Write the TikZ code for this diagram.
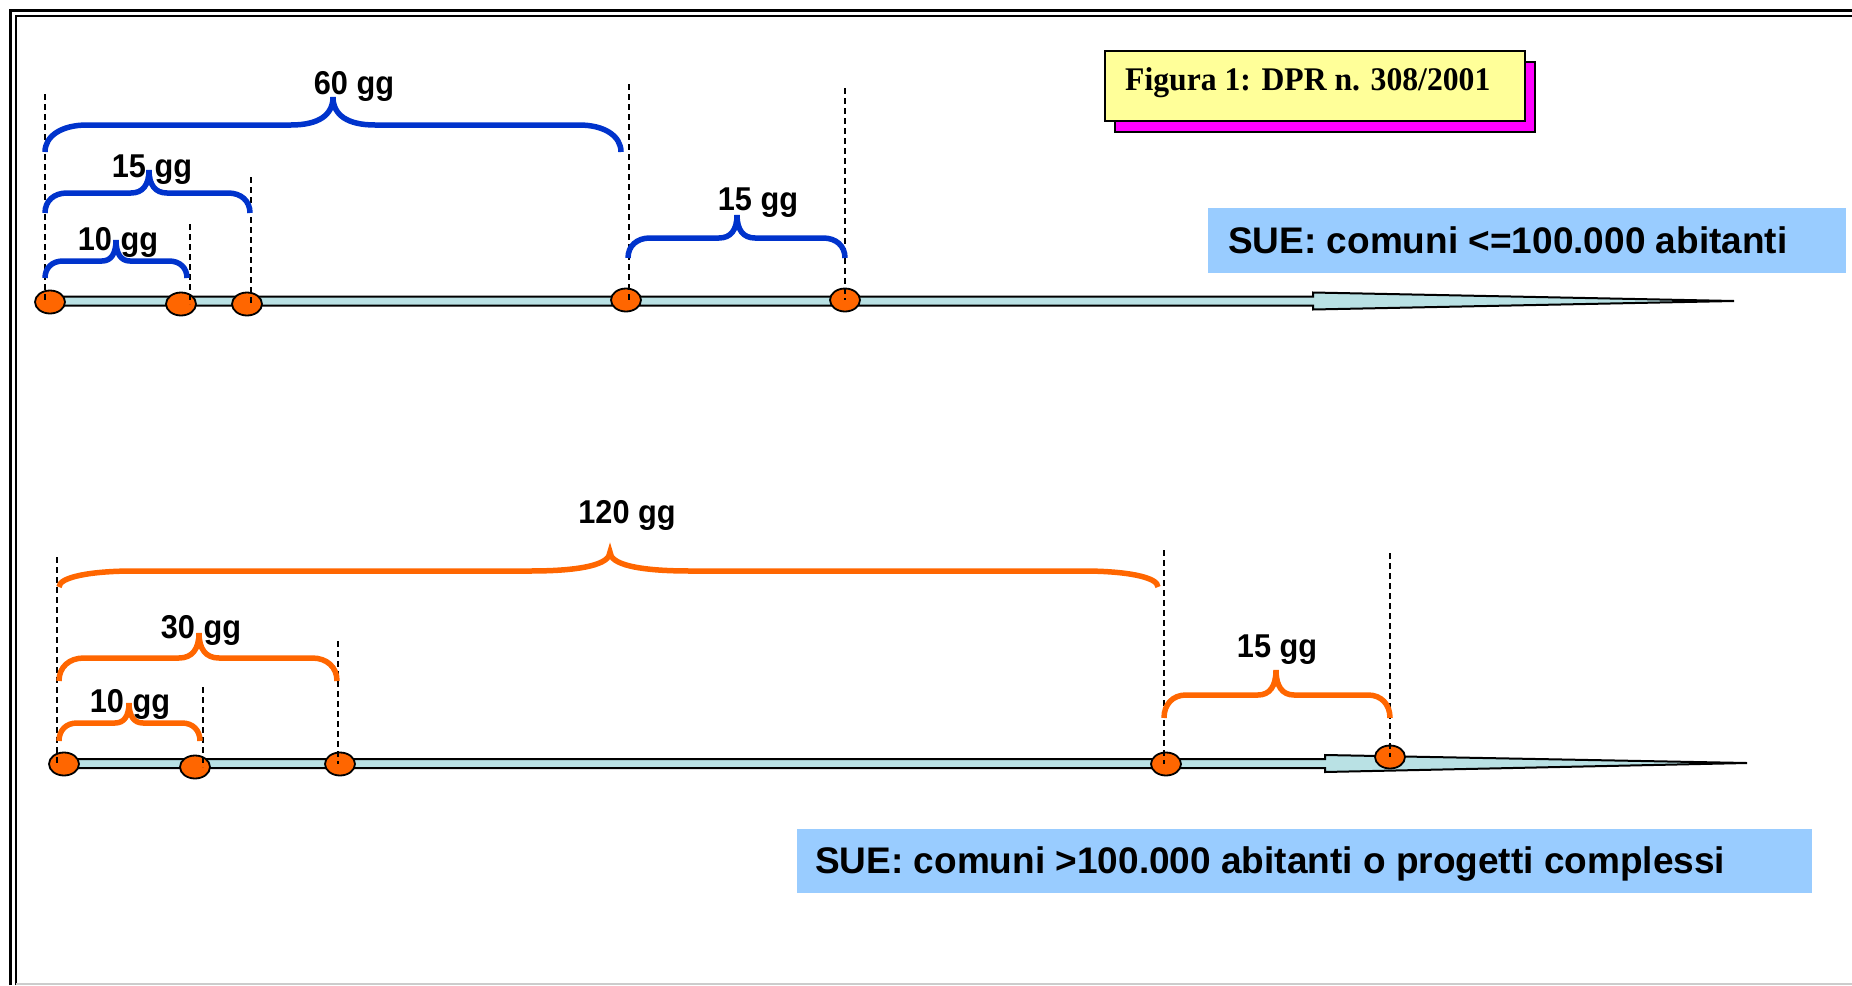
\documentclass[tikz,border=0pt]{standalone}
\usepackage{fontspec}
\setmainfont{Liberation Sans}
\newfontfamily\serifb{Liberation Serif}
\usetikzlibrary{shapes.geometric}
\definecolor{blueb}{RGB}{0,51,204}
\definecolor{orgc}{RGB}{255,102,0}
\definecolor{shaftc}{RGB}{185,225,228}
\definecolor{suebg}{RGB}{153,204,255}
\definecolor{yelc}{RGB}{255,255,153}
\definecolor{magc}{RGB}{255,0,255}
\tikzset{
  bracestyle/.style={line width=5.5pt, line cap=butt},
  dot/.style={ellipse, draw=black, line width=1.8pt, fill=orgc, minimum width=30pt, minimum height=23pt, inner sep=0pt},
  guide/.style={dash pattern=on 6pt off 4pt, line width=1.4pt, black},
  lbl/.style={anchor=base, inner sep=0pt, xscale=0.93, font=\fontsize{33}{38}\selectfont\bfseries},
  timeline/.style={fill=shaftc, draw=black, line width=2pt, line join=miter},
  suebox/.style={fill=suebg, inner sep=0pt, anchor=north west},
  suetxt/.style={anchor=base west, inner sep=0pt, font=\fontsize{37}{42}\selectfont\bfseries},
  figbox/.style={draw=black, line width=2pt, inner sep=0pt, anchor=north west, minimum width=420pt, minimum height=70pt}
}
% color, x1, x2, xm, yend, ytop, ytip, corner, tip half-width
\newcommand{\curlybr}[9]{%
  \draw[bracestyle, #1] (#2,#5) .. controls (#2,{#5-0.6*(#5-#6)}) and ({#2+0.4*#8},#6) .. ({#2+#8},#6)
    -- ({#4-#9},#6) .. controls ({#4-0.35*#9},#6) and (#4,{#6-0.35*(#6-#7)}) .. (#4,#7)
    .. controls (#4,{#6-0.35*(#6-#7)}) and ({#4+0.35*#9},#6) .. ({#4+#9},#6)
    -- ({#3-#8},#6) .. controls ({#3-0.4*#8},#6) and (#3,{#5-0.6*(#5-#6)}) .. (#3,#5);}
\begin{document}
\begin{tikzpicture}[x=1pt,y=-1pt]
\useasboundingbox (0,0) rectangle (1852,985);
% frame
\draw[line width=3pt] (10.5,985) -- (10.5,10.5) -- (1852,10.5);
\draw[line width=2pt] (15.5,985) -- (15.5,15.5) -- (1852,15.5);
\draw[black!20, line width=2pt] (16,984) -- (1852,984);

% title box
\node[figbox, fill=magc] (figsh) at (1114,61) {};
\node[figbox, fill=yelc] (fig) at (1104,50) {};
\node[anchor=base west, inner sep=0pt, xscale=0.96, font=\serifb\fontsize{33}{38}\selectfont\bfseries] (figt) at (1125,90) {Figura 1: DPR n. 308/2001};

% SUE boxes
\node[suebox, minimum width=638pt, minimum height=65pt] (sue1) at (1208,208) {};
\node[suetxt] (sue1t) at (1228,253) {SUE: comuni <=100.000 abitanti};
\node[suebox, minimum width=1015pt, minimum height=64pt] (sue2) at (797,829) {};
\node[suetxt] (sue2t) at (815,873) {SUE: comuni >100.000 abitanti o progetti complessi};

% top timeline
\draw[timeline] (50,296.5) -- (1313,296.5) -- (1313,292.5) -- (1734,301) -- (1313,309.5) -- (1313,305.5) -- (50,305.5) -- cycle;
\node[dot] (a1) at (50,302) {};
\node[dot] (a2) at (181,304) {};
\node[dot] (a3) at (247,304) {};
\node[dot] (a4) at (626,300) {};
\node[dot] (a5) at (845,300) {};

% bottom timeline
\draw[timeline] (64,759) -- (1325,759) -- (1325,755) -- (1747,763) -- (1325,772) -- (1325,768) -- (64,768) -- cycle;
\node[dot] (b1) at (64,764) {};
\node[dot] (b2) at (195,767) {};
\node[dot] (b3) at (340,764) {};
\node[dot] (b4) at (1166,764) {};
\node[dot] (b5) at (1390,757) {};

% dashed guides top
\coordinate (ga1) at (45,94);
\coordinate (ga2) at (190,224);
\coordinate (ga3) at (251,177);
\coordinate (ga4) at (629,84);
\coordinate (ga5) at (845,88);
\foreach \i in {1,...,5} {\draw[guide] (ga\i) -- (ga\i |- a\i.center);}
% dashed guides bottom
\coordinate (gb1) at (57,557);
\coordinate (gb2) at (203,687);
\coordinate (gb3) at (338,641);
\coordinate (gb4) at (1164,550);
\coordinate (gb5) at (1390,553);
\foreach \i in {1,...,5} {\draw[guide] (gb\i) -- (gb\i |- b\i.center);}

% braces top (blue)
\curlybr{blueb}{45}{621}{333}{152}{125}{97}{42}{42}
\curlybr{blueb}{45}{250}{149}{213}{193}{170}{22}{18}
\curlybr{blueb}{45}{187}{116}{278}{261}{240}{18}{14}
\curlybr{blueb}{628}{845}{737}{258}{238}{215}{22}{18}
% braces bottom (orange)
\curlybr{orgc}{59}{1158}{610}{587}{571}{552}{75}{80}
\curlybr{orgc}{59}{337}{199}{681}{658}{633}{25}{20}
\curlybr{orgc}{59}{200}{129}{741}{723}{703}{18}{14}
\curlybr{orgc}{1164}{1390}{1276}{718}{695}{670}{22}{18}

% labels
\node[lbl] (l60) at (354,94) {60 gg};
\node[lbl] (l15a) at (152,177) {15 gg};
\node[lbl] (l10a) at (118,250) {10 gg};
\node[lbl] (l15b) at (758,210) {15 gg};
\node[lbl] (l120) at (627,523) {120 gg};
\node[lbl] (l30) at (201,638) {30 gg};
\node[lbl] (l10b) at (130,712) {10 gg};
\node[lbl] (l15c) at (1277,657) {15 gg};
\end{tikzpicture}
\end{document}
